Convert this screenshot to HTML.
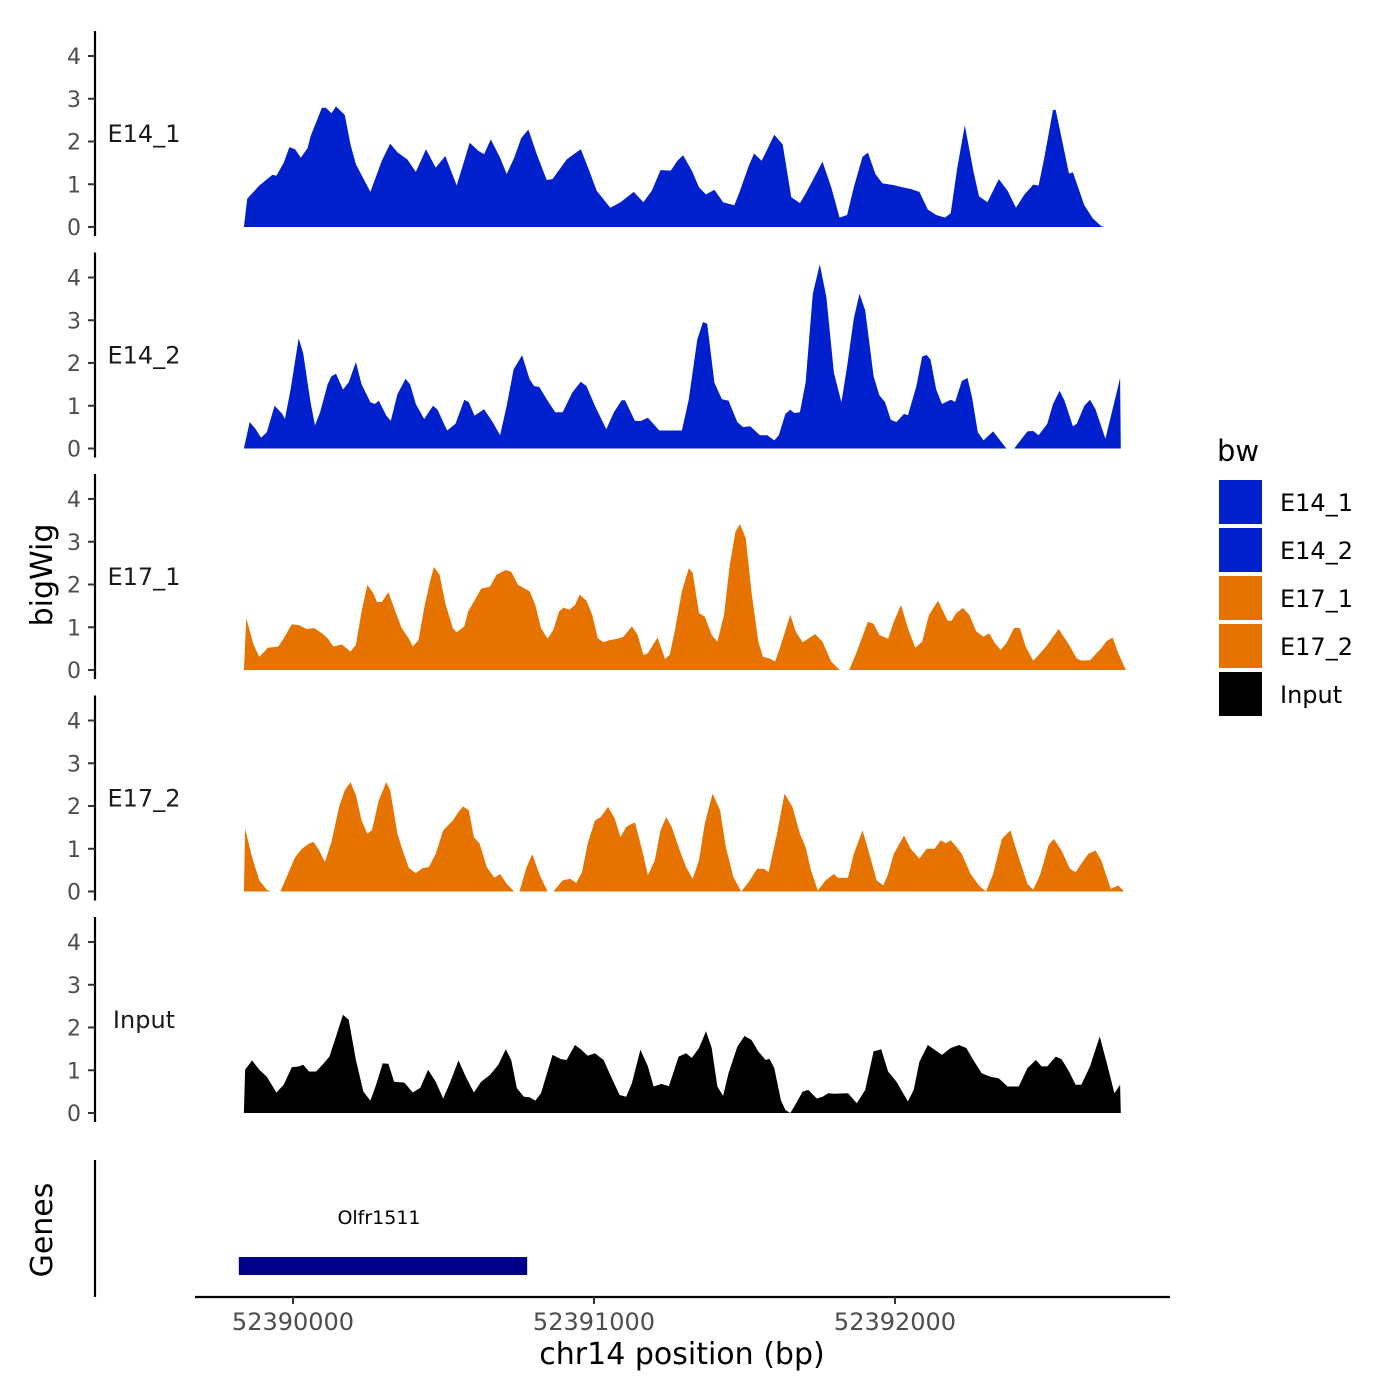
<!DOCTYPE html>
<html><head><meta charset="utf-8"><style>
html,body{margin:0;padding:0;background:#fff;}
svg{display:block;font-family:"DejaVu Sans","Liberation Sans",sans-serif;}
</style></head><body>
<svg id="chart" width="1400" height="1400" viewBox="0 0 1400 1400">
<g id="tracks"></g>
<g id="legend">
<text x="1217" y="461" font-size="29" fill="#000">bw</text>
</g>
<text transform="translate(52,575) rotate(-90)" text-anchor="middle" font-size="30" fill="#000">bigWig</text>
<text transform="translate(52,1230) rotate(-90)" text-anchor="middle" font-size="30" fill="#000">Genes</text>
<line x1="95" y1="1160" x2="95" y2="1297" stroke="#000" stroke-width="2.2"/>
<g id="genes"></g>
<g id="xaxis"></g>
<text x="682" y="1364" text-anchor="middle" font-size="30" fill="#000">chr14 position (bp)</text>
</svg>
<script>
const REGION_START = 52389822;
const trackNames = ["E14_1","E14_2","E17_1","E17_2","Input"];
const trackColors = ["#0020CE","#0020CE","#E67300","#E67300","#000000"];
const yTicks = [0,1,2,3,4];
const xTicks = [52390000,52391000,52392000];
const geneName = ["Olfr1511"];
const geneStart = [52389820];
const geneEnd = [52390778];

const posE14_1 = [15,26,66,110,123,147,166,185,204,227,236,274,287,306,321,350,369,387,435,473,501,525,558,586,620,652,684,722,765,794,813,835,866,888,913,936,960,988,1021,1040,1087,1111,1134,1162,1187,1232,1266,1310,1342,1370,1399,1433,1455,1474,1503,1527,1550,1578,1607,1644,1663,1692,1710,1735,1777,1805,1833,1862,1881,1937,1966,1994,2019,2041,2070,2088,2113,2136,2174,2202,2230,2259,2287,2315,2344,2363,2385,2410,2438,2457,2485,2523,2552,2580,2608,2637,2655,2674,2703,2712,2756,2769,2807,2835,2863,2873];
const valE14_1 = [0,0.66,0.97,1.22,1.2,1.5,1.87,1.82,1.62,1.85,2.12,2.79,2.79,2.66,2.82,2.62,1.93,1.47,0.82,1.55,1.95,1.75,1.58,1.29,1.82,1.39,1.66,0.97,1.97,1.78,1.7,2.05,1.62,1.24,1.62,2.08,2.28,1.7,1.1,1.12,1.58,1.7,1.82,1.32,0.85,0.45,0.58,0.82,0.58,0.85,1.33,1.32,1.55,1.68,1.32,0.93,0.76,0.87,0.58,0.51,0.85,1.43,1.72,1.55,2.16,1.93,0.7,0.56,0.78,1.53,0.93,0.22,0.28,0.93,1.64,1.74,1.24,1.02,0.98,0.93,0.89,0.82,0.41,0.28,0.22,0.32,1.39,2.38,1.32,0.72,0.58,1.12,0.85,0.45,0.76,0.99,0.97,1.62,2.74,2.74,1.25,1.28,0.51,0.2,0.02,0];

const posE14_2 = [15,34,53,72,91,117,142,151,170,197,212,236,251,268,293,306,321,344,363,387,406,435,450,463,488,503,525,552,567,586,614,643,658,690,718,747,762,781,813,841,866,888,911,939,964,979,996,1021,1049,1074,1106,1134,1153,1181,1219,1244,1270,1281,1314,1332,1357,1395,1470,1493,1521,1540,1554,1578,1603,1625,1654,1673,1697,1729,1754,1777,1792,1814,1830,1843,1862,1881,1905,1928,1950,1975,2000,2019,2041,2060,2079,2107,2126,2145,2164,2183,2208,2221,2249,2268,2283,2296,2315,2334,2363,2378,2400,2419,2434,2453,2472,2504,2548,2574,2618,2637,2655,2684,2703,2725,2741,2769,2782,2807,2826,2844,2877,2901,2926,2928];
const valE14_2 = [0,0.62,0.46,0.25,0.38,1.0,0.81,0.69,1.38,2.58,2.23,1.08,0.54,0.85,1.5,1.69,1.75,1.38,1.55,2.02,1.5,1.08,1.04,1.12,0.77,0.65,1.27,1.63,1.5,1.04,0.69,1.0,0.91,0.42,0.58,1.14,1.08,0.77,0.92,0.62,0.31,1.0,1.85,2.18,1.62,1.46,1.44,1.15,0.85,0.85,1.31,1.56,1.46,1.0,0.45,0.85,1.13,1.13,0.65,0.64,0.72,0.42,0.42,1.15,2.54,2.96,2.92,1.54,1.15,1.12,0.62,0.5,0.52,0.31,0.31,0.19,0.31,0.81,0.91,0.83,0.85,1.54,3.62,4.31,3.54,1.77,1.08,1.92,3.04,3.62,3.23,1.69,1.25,1.08,0.67,0.62,0.81,0.78,1.46,2.15,2.19,2.08,1.38,1.04,1.14,1.09,1.58,1.65,1.19,0.38,0.19,0.4,0,0,0.4,0.41,0.31,0.58,1.04,1.35,1.12,0.52,0.58,1.0,1.14,0.92,0.23,0.92,1.65,0];

const posE17_1 = [15,23,47,66,95,129,147,174,198,223,249,274,293,312,340,369,387,406,425,444,457,473,495,514,539,563,576,595,614,633,646,665,684,709,722,747,760,779,803,832,854,885,903,926,964,983,1002,1024,1043,1062,1077,1096,1115,1130,1153,1172,1191,1210,1229,1257,1276,1304,1323,1342,1357,1389,1414,1429,1446,1470,1493,1506,1527,1546,1569,1588,1610,1629,1648,1663,1682,1701,1724,1739,1761,1780,1799,1830,1848,1871,1913,1937,1966,1994,2026,2051,2088,2107,2126,2155,2174,2198,2221,2245,2268,2291,2321,2353,2366,2381,2404,2425,2448,2472,2491,2510,2529,2548,2574,2593,2612,2637,2655,2680,2722,2756,2782,2797,2826,2863,2882,2901,2920,2945];
const valE17_1 = [0,1.21,0.59,0.31,0.52,0.55,0.74,1.07,1.05,0.96,0.98,0.86,0.74,0.55,0.6,0.43,0.59,1.37,1.99,1.8,1.59,1.59,1.82,1.45,0.98,0.73,0.55,0.7,1.45,2.07,2.41,2.23,1.56,0.98,0.88,1.02,1.37,1.6,1.9,1.95,2.23,2.34,2.3,1.99,1.84,1.52,0.98,0.73,0.94,1.37,1.46,1.41,1.52,1.76,1.62,1.29,0.74,0.65,0.7,0.73,0.78,1.02,0.82,0.35,0.39,0.76,0.26,0.35,0.9,1.84,2.38,2.27,1.33,1.25,0.82,0.66,1.29,2.46,3.24,3.41,3.09,1.84,0.66,0.31,0.27,0.2,0.59,1.29,0.9,0.65,0.84,0.66,0.2,0,0,0.43,1.13,1.08,0.82,0.73,1.13,1.52,0.98,0.52,0.66,1.29,1.62,1.15,1.15,1.33,1.45,1.29,0.9,0.78,0.86,0.63,0.47,0.63,0.99,0.98,0.55,0.22,0.35,0.55,0.96,0.59,0.27,0.22,0.23,0.51,0.68,0.76,0.39,0];

const posE17_2 = [15,19,42,66,91,104,136,161,185,208,231,246,265,284,306,331,350,369,387,406,425,440,463,488,501,525,544,563,586,609,629,652,677,709,728,743,762,779,798,822,847,866,888,913,930,954,973,998,1024,1043,1074,1100,1119,1138,1157,1181,1200,1225,1247,1266,1285,1314,1338,1357,1380,1399,1418,1436,1465,1484,1506,1527,1546,1572,1597,1616,1641,1667,1692,1720,1743,1758,1786,1811,1837,1862,1881,1899,1922,1947,1975,1988,2022,2041,2070,2088,2117,2139,2155,2174,2208,2230,2259,2283,2310,2330,2347,2363,2385,2400,2429,2457,2480,2504,2533,2561,2589,2618,2637,2661,2688,2706,2731,2759,2778,2797,2820,2844,2863,2895,2920,2939];
const valE17_2 = [0,1.47,0.8,0.26,0.04,0,0,0.41,0.8,1.0,1.12,1.16,0.96,0.69,1.16,1.98,2.37,2.56,2.25,1.66,1.35,1.43,2.13,2.56,2.37,1.35,0.92,0.55,0.43,0.55,0.57,0.88,1.43,1.66,1.86,1.99,1.9,1.27,1.12,0.57,0.32,0.41,0.18,0,0,0.57,0.87,0.38,0,0,0.26,0.3,0.2,0.45,1.12,1.66,1.74,1.98,1.7,1.27,1.51,1.62,0.96,0.38,0.73,1.43,1.74,1.51,0.92,0.57,0.3,0.73,1.59,2.29,1.9,1.04,0.34,0,0.22,0.53,0.53,0.45,1.35,2.29,1.98,1.35,1.04,0.49,0.02,0.26,0.41,0.32,0.32,0.88,1.43,1.0,0.26,0.14,0.41,0.88,1.31,1.0,0.77,1.0,1.0,1.2,1.13,1.2,1.02,0.88,0.41,0.14,0,0.41,1.23,1.43,0.8,0.18,0.04,0.41,1.08,1.23,0.96,0.53,0.45,0.65,0.88,0.96,0.73,0.06,0.14,0];

const posInput = [15,19,42,66,91,123,147,174,198,212,231,255,280,299,321,344,363,387,412,435,454,476,495,514,548,576,601,627,652,677,699,728,752,779,803,832,860,885,903,922,945,964,983,1002,1040,1068,1087,1115,1134,1157,1181,1210,1232,1263,1285,1304,1332,1357,1376,1402,1427,1459,1484,1503,1527,1550,1569,1588,1607,1625,1654,1678,1701,1724,1748,1761,1777,1799,1814,1830,1843,1871,1890,1918,1937,1956,1975,2022,2051,2079,2107,2132,2155,2183,2221,2240,2259,2287,2334,2363,2391,2415,2438,2466,2495,2523,2552,2589,2618,2646,2665,2684,2712,2731,2756,2778,2797,2826,2858,2882,2907,2926,2928];
const valInput = [0,1.01,1.23,1.01,0.85,0.48,0.66,1.07,1.09,1.13,0.97,0.97,1.16,1.32,1.79,2.3,2.18,1.24,0.5,0.29,0.66,1.16,1.15,0.73,0.71,0.48,0.59,1.01,0.73,0.34,0.7,1.23,0.85,0.48,0.73,0.89,1.13,1.49,1.24,0.58,0.38,0.37,0.29,0.46,1.36,1.26,1.24,1.59,1.49,1.34,1.4,1.24,0.89,0.42,0.38,0.7,1.48,1.09,0.62,0.68,0.63,1.32,1.4,1.29,1.52,1.91,1.52,0.62,0.4,0.93,1.55,1.8,1.71,1.44,1.24,1.27,1.05,0.3,0.07,0,0.15,0.5,0.54,0.34,0.38,0.46,0.45,0.46,0.23,0.54,1.44,1.49,0.97,0.73,0.27,0.54,1.2,1.59,1.36,1.52,1.59,1.52,1.24,0.93,0.85,0.81,0.62,0.62,1.05,1.24,1.09,1.09,1.32,1.26,0.97,0.66,0.66,1.09,1.79,1.16,0.46,0.66,0];

const trackPos = [posE14_1,posE14_2,posE17_1,posE17_2,posInput];
const trackVal = [valE14_1,valE14_2,valE17_1,valE17_2,valInput];

const NS = "http://www.w3.org/2000/svg";
function xScale(bp){ return 293 + (bp - 52390000) * 0.301; }
function panelZero(k){ return 227 + k * 221.5; }
function yScale(k, v){ return panelZero(k) - v * 42.75; }
function mk(tag, attrs, parent){
  const el = document.createElementNS(NS, tag);
  for (const a in attrs) el.setAttribute(a, attrs[a]);
  parent.appendChild(el);
  return el;
}
const tracks = document.getElementById("tracks");
for (let k = 0; k < trackNames.length; k++){
  const g = mk("g", {}, tracks);
  
  
  const z = panelZero(k);
  const ax = mk("line", {x1:95, y1:z-196, x2:95, y2:z+9, stroke:"#000", "stroke-width":2.2}, g);
  
  
  yTicks.forEach(t => {
    const y = yScale(k, t);
    const tl = mk("line", {x1:88, y1:y, x2:95, y2:y, stroke:"#333", "stroke-width":2}, g);
    
    
    const tx = mk("text", {x:81, y:y+8, "text-anchor":"end", "font-size":22, fill:"#4d4d4d"}, g);
    tx.textContent = t;
    
    
  });
  const lab = mk("text", {x:144, y:yScale(k,2.2)+9, "text-anchor":"middle", "font-size":24, fill:"#1a1a1a"}, g);
  lab.textContent = trackNames[k];
  
  
  const pos = trackPos[k], val = trackVal[k];
  let d = "M" + xScale(REGION_START + pos[0]).toFixed(1) + "," + z;
  for (let i = 0; i < pos.length; i++){
    d += " L" + xScale(REGION_START + pos[i]).toFixed(1) + "," + yScale(k, val[i]).toFixed(1);
  }
  d += " L" + xScale(REGION_START + pos[pos.length-1]).toFixed(1) + "," + z + " Z";
  const area = mk("path", {d:d, fill:trackColors[k]}, g);
  
  
}
// legend
const legend = document.getElementById("legend");
for (let k = 0; k < trackNames.length; k++){
  const y = 480 + k * 48;
  const r = mk("rect", {x:1219, y:y, width:43, height:44, fill:trackColors[k]}, legend);
  
  
  const t = mk("text", {x:1280, y:y+31, "font-size":24, fill:"#000"}, legend);
  t.textContent = trackNames[k];
  
  
}
// genes
const genes = document.getElementById("genes");
for (let i = 0; i < geneName.length; i++){
  const x1 = xScale(geneStart[i]), x2 = xScale(geneEnd[i]);
  const b = mk("rect", {x:x1, y:1257, width:x2-x1, height:18, fill:"#00008B"}, genes);
  
  
  const t = mk("text", {x:(x1+x2)/2 - 4, y:1224, "text-anchor":"middle", "font-size":19, fill:"#000"}, genes);
  t.textContent = geneName[i];
  
  
}
// x axis
const xa = document.getElementById("xaxis");
const xl = mk("line", {x1:195, y1:1297, x2:1170, y2:1297, stroke:"#000", "stroke-width":2.2}, xa);


xTicks.forEach(t => {
  const x = xScale(t);
  const tk = mk("line", {x1:x, y1:1297, x2:x, y2:1304, stroke:"#333", "stroke-width":2}, xa);
  
  
  const tx = mk("text", {x:x, y:1330, "text-anchor":"middle", "font-size":24, fill:"#4d4d4d"}, xa);
  tx.textContent = t;
  
  
});
</script>
</body></html>
